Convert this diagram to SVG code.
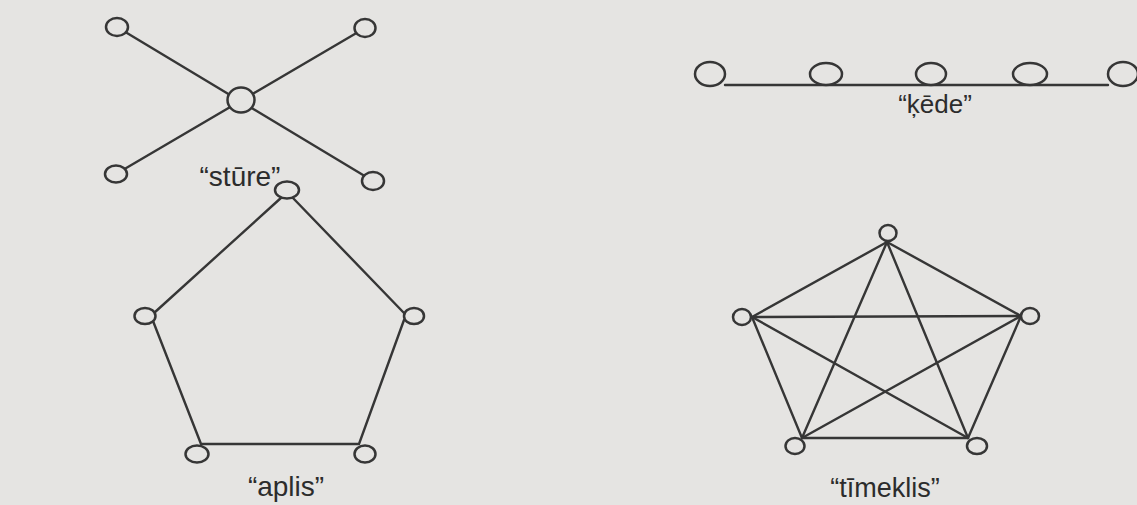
<svg xmlns="http://www.w3.org/2000/svg" width="1137" height="505" viewBox="0 0 1137 505">
<style>
.bg{fill:#e5e4e2}
.e{stroke:#363636;stroke-width:2.4;fill:none;stroke-linecap:round}
.n{stroke:#363636;stroke-width:2.5;fill:#e5e4e2}
.lbl{font-family:"Liberation Sans",Arial,sans-serif;fill:#2c2c2c;text-anchor:middle}
</style>
<rect class="bg" x="0" y="0" width="1137" height="505"/>
<g id="connectors">
  <!-- stūre -->
  <line class="e" x1="117" y1="27" x2="373" y2="181"/>
  <line class="e" x1="365" y1="28" x2="116" y2="174"/>
  <!-- ķēde -->
  <line class="e" x1="725" y1="85" x2="1108" y2="85"/>
  <!-- aplis -->
  <polyline class="e" points="154,313 282,197"/>
  <polyline class="e" points="292,197 404,313"/>
  <polyline class="e" points="153,321 201,444 359,444 404,320"/>
  <!-- tīmeklis -->
  <line class="e" x1="887" y1="242" x2="752" y2="317"/>
  <line class="e" x1="887" y1="242" x2="1021" y2="316"/>
  <line class="e" x1="887" y1="242" x2="802" y2="438"/>
  <line class="e" x1="887" y1="242" x2="968" y2="438"/>
  <line class="e" x1="752" y1="317" x2="1021" y2="316"/>
  <line class="e" x1="752" y1="317" x2="802" y2="438"/>
  <line class="e" x1="752" y1="317" x2="968" y2="438"/>
  <line class="e" x1="1021" y1="316" x2="802" y2="438"/>
  <line class="e" x1="1021" y1="316" x2="968" y2="438"/>
  <line class="e" x1="802" y1="438" x2="968" y2="438"/>
</g>
<g id="sture">
  <ellipse class="n" cx="117" cy="27" rx="11" ry="9"/>
  <ellipse class="n" cx="365" cy="28" rx="10.5" ry="9"/>
  <ellipse class="n" cx="241" cy="100" rx="13.5" ry="12.5"/>
  <ellipse class="n" cx="116" cy="174" rx="11" ry="8.5"/>
  <ellipse class="n" cx="373" cy="181" rx="11" ry="9"/>
  <text class="lbl" x="240" y="186" font-size="28">“stūre”</text>
</g>
<g id="kede">
  <ellipse class="n" cx="710" cy="74" rx="15" ry="12"/>
  <ellipse class="n" cx="826" cy="74" rx="16" ry="11"/>
  <ellipse class="n" cx="931" cy="74" rx="15" ry="11"/>
  <ellipse class="n" cx="1030" cy="74" rx="17" ry="11"/>
  <ellipse class="n" cx="1123" cy="74" rx="15" ry="12"/>
  <text class="lbl" x="935" y="113" font-size="26">“ķēde”</text>
</g>
<g id="aplis">
  <ellipse class="n" cx="287" cy="190" rx="12" ry="8.5"/>
  <ellipse class="n" cx="145" cy="316" rx="10.5" ry="8"/>
  <ellipse class="n" cx="414" cy="316" rx="10" ry="8"/>
  <ellipse class="n" cx="197" cy="454" rx="11.5" ry="8.5"/>
  <ellipse class="n" cx="365" cy="454" rx="10.5" ry="8.5"/>
  <text class="lbl" x="286" y="496" font-size="28">“aplis”</text>
</g>
<g id="timeklis">
  <ellipse class="n" cx="888" cy="233" rx="8.5" ry="8"/>
  <ellipse class="n" cx="742" cy="317" rx="9" ry="8"/>
  <ellipse class="n" cx="1030" cy="316" rx="9" ry="8"/>
  <ellipse class="n" cx="795" cy="446" rx="9.5" ry="8"/>
  <ellipse class="n" cx="977" cy="446" rx="10" ry="8"/>
  <text class="lbl" x="885" y="497" font-size="27">“tīmeklis”</text>
</g>
</svg>
